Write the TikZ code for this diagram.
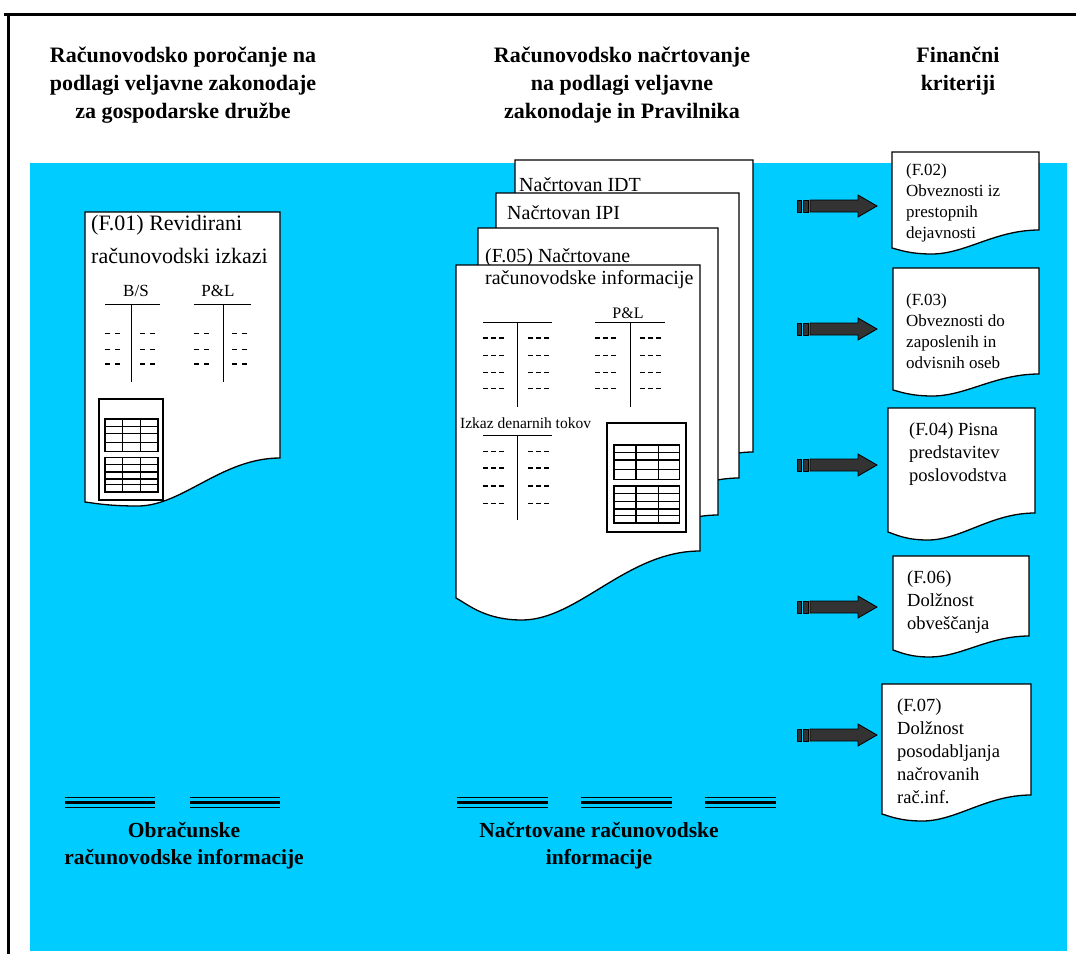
\documentclass[tikz,border=0pt]{standalone}
\usepackage{fontspec}
\setmainfont{Liberation Serif}
\usetikzlibrary{positioning}
\definecolor{bgcyan}{RGB}{0,204,255}
\definecolor{arrowgray}{RGB}{51,51,51}
\tikzset{
  paper/.style={draw=black,line width=1.3pt,fill=white},
  headtxt/.style={font=\fontsize{22}{28}\selectfont\bfseries,
    align=center,inner sep=0pt},
  foottxt/.style={font=\fontsize{21.5}{27}\selectfont\bfseries,
    align=center,inner sep=0pt},
  bigtxt/.style={font=\fontsize{22}{33}\selectfont,
    align=left,anchor=north west,inner sep=0pt},
  midtxt/.style={font=\fontsize{20}{22}\selectfont,
    anchor=north west,inner sep=0pt},
  crittxt/.style={font=\fontsize{17}{21}\selectfont,
    align=left,anchor=north west,inner sep=0pt},
  crittxtl/.style={font=\fontsize{18.5}{23}\selectfont,
    align=left,anchor=north west,inner sep=0pt},
  smalltxt/.style={font=\fontsize{17}{20}\selectfont,inner sep=0pt},
  tline/.style={line width=1pt},
  dashrow/.style={line width=1pt,dash pattern=on 5pt off 3pt},
  dashbold/.style={line width=2pt,dash pattern=on 5pt off 3pt},
  dashwide/.style={line width=1pt,dash pattern=on 5pt off 5pt},
  dashwidebold/.style={line width=2pt,dash pattern=on 5pt off 5pt},
  blockarr/.style={fill=arrowgray,draw=black,line width=0.8pt},
}
% document sheet: left, top, right, right bottom, left bottom, dip
\newcommand{\docshape}[6]{%
  \filldraw[paper] (#1,#2) -- (#3,#2) -- (#3,#4)
    .. controls ({#3-0.3*(#3-#1)},#4) and ({#1+0.5*(#3-#1)},{#5+#6})
    .. ({#1+0.27*(#3-#1)},{#5+#6})
    .. controls ({#1+0.12*(#3-#1)},{#5+#6}) and ({#1+0.05*(#3-#1)},{#5+0.3*#6})
    .. (#1,#5) -- cycle;}
% spreadsheet icon: x, y, width, height
\newcommand{\sheeticon}[4]{%
  \begin{scope}[shift={(#1,#2)},xscale=#3/100,yscale=#4/100]
    \filldraw[fill=white,draw=black,line width=1.3pt] (0,0) rectangle (100,100);
    \draw[line width=1.6pt] (9,20) rectangle (92,52) (9,34) -- (92,34)
      (37,20) -- (37,52) (65,20) -- (65,52);
    \draw[line width=0.9pt] (9,27) -- (92,27) (9,43) -- (92,43);
    \draw[line width=1.6pt] (9,58) rectangle (92,92) (9,72) -- (92,72)
      (9,79) -- (92,79) (37,58) -- (37,92) (65,58) -- (65,92);
    \draw[line width=0.9pt] (9,65) -- (92,65) (9,85) -- (92,85);
  \end{scope}}
% triple rule: x from, x to, y
\newcommand{\tripleline}[3]{%
  \draw[line width=1pt] (#1,#3) -- (#2,#3);
  \draw[line width=3pt] (#1,{#3+5}) -- (#2,{#3+5});
  \draw[line width=1pt] (#1,{#3+10}) -- (#2,{#3+10});}

\begin{document}
\begin{tikzpicture}[x=1pt,y=-1pt]
  \fill[white] (0,0) rectangle (1076,954);
  \useasboundingbox (0,0) rectangle (1076,954);

  % --- Frame and background ---
  \fill[bgcyan] (30,163) rectangle (1067,951);
  \draw[line width=3pt] (4,14) -- (1076,14);
  \draw[line width=2.5pt] (8.5,14) -- (8.5,954);

  % --- Column headings ---
  \node[headtxt] (h1) at (183,85)
    {Računovodsko poročanje na\\podlagi veljavne zakonodaje\\za gospodarske družbe};
  \node[headtxt] (h2) at (622,85)
    {Računovodsko načrtovanje\\na podlagi veljavne\\zakonodaje in Pravilnika};
  \node[headtxt] (h3) at (958,71) {Finančni\\kriteriji};

  % --- Left sheet (F.01) ---
  \docshape{85}{212}{280}{458}{502}{4}
  \node[bigtxt] (f01) at (91,215) {(F.01) Revidirani\\računovodski izkazi};
  \node[smalltxt] (bs) at (136,291) {B/S};
  \node[smalltxt] (pl1) at (218,291) {P\&L};
  \draw[tline] (105,304) -- (160,304) (131,304) -- (131,382);
  \draw[tline] (194,304) -- (251,304) (223,304) -- (223,382);
  \foreach \ry/\st in {333/dashwide,349/dashwide,364/dashwidebold} {
    \draw[\st] (105,\ry) -- (122,\ry);
    \draw[\st] (140,\ry) -- (157,\ry);
    \draw[\st] (194,\ry) -- (211,\ry);
    \draw[\st] (232,\ry) -- (249,\ry);
  }
  \sheeticon{99}{399}{64}{101}

  % --- Middle stack (F.05) ---
  \docshape{515}{160}{753}{452}{500}{22}
  \node[midtxt] (idt) at (519,177) {Načrtovan IDT};
  \docshape{496}{193}{739}{478}{525}{22}
  \node[midtxt] (ipi) at (507,205) {Načrtovan IPI};
  \docshape{478}{228}{718}{515}{562}{22}
  \node[midtxt] (f05) at (485,248) {(F.05) Načrtovane};
  \docshape{456}{265}{700}{551}{598}{22}
  \node[midtxt] (f05b) at (485,270) {računovodske informacije};

  \node[smalltxt,font=\fontsize{16}{18}\selectfont] (pl2) at (628,313) {P\&L};
  \draw[tline] (483,322) -- (552,322) (517,322) -- (517,407);
  \draw[tline] (595,322) -- (665,322) (630,322) -- (630,407);
  \foreach \ry/\st in {338/dashbold,355/dashrow,372/dashrow,388/dashrow} {
    \draw[\st] (483,\ry) -- (505,\ry);
    \draw[\st] (528,\ry) -- (550,\ry);
    \draw[\st] (595,\ry) -- (617,\ry);
    \draw[\st] (640,\ry) -- (662,\ry);
  }
  \node[smalltxt,font=\fontsize{15.5}{18}\selectfont,anchor=west] (cf)
    at (460,423) {Izkaz denarnih tokov};
  \draw[tline] (483,435) -- (552,435) (517,435) -- (517,520);
  \foreach \ry/\st in {451/dashrow,468/dashbold,486/dashbold,503/dashrow} {
    \draw[\st] (483,\ry) -- (505,\ry);
    \draw[\st] (528,\ry) -- (550,\ry);
  }
  \sheeticon{607}{423}{79}{109}

  % --- Right column: criteria sheets ---
  \docshape{892}{152}{1039}{230}{248}{6}
  \node[crittxt] (f02) at (906,163) {(F.02)\\Obveznosti iz\\prestopnih\\dejavnosti};
  \docshape{893}{268}{1039}{374}{390}{6}
  \node[crittxt] (f03) at (906,293) {(F.03)\\Obveznosti do\\zaposlenih in\\odvisnih oseb};
  \docshape{888}{408}{1035}{513}{532}{8}
  \node[crittxtl] (f04) at (909,422) {(F.04) Pisna\\predstavitev\\poslovodstva};
  \docshape{893}{556}{1029}{636}{650}{7}
  \node[crittxtl] (f06) at (907,570) {(F.06)\\Dolžnost\\obveščanja};
  \docshape{882}{684}{1031}{795}{814}{7}
  \node[crittxtl] (f07) at (897,698)
    {(F.07)\\Dolžnost\\posodabljanja\\načrovanih\\rač.inf.};

  % --- Block arrows into the criteria ---
  \foreach \ay in {206,329,465,607,735} {
    \filldraw[blockarr] (797,\ay-6) rectangle (801,\ay+6);
    \filldraw[blockarr] (803,\ay-6) rectangle (808,\ay+6);
    \filldraw[blockarr] (810,\ay-6) -- (858,\ay-6) -- (858,\ay-11)
      -- (877,\ay) -- (858,\ay+11) -- (858,\ay+6) -- (810,\ay+6) -- cycle;
  }

  % --- Bottom rules and captions ---
  \foreach \xa/\xb in {65/155,190/280,457/548,581/672,705/776}
    {\tripleline{\xa}{\xb}{797.5}}
  \node[foottxt] (ft1) at (184,846) {Obračunske\\računovodske informacije};
  \node[foottxt] (ft2) at (599,846) {Načrtovane računovodske\\informacije};
\end{tikzpicture}
\end{document}
